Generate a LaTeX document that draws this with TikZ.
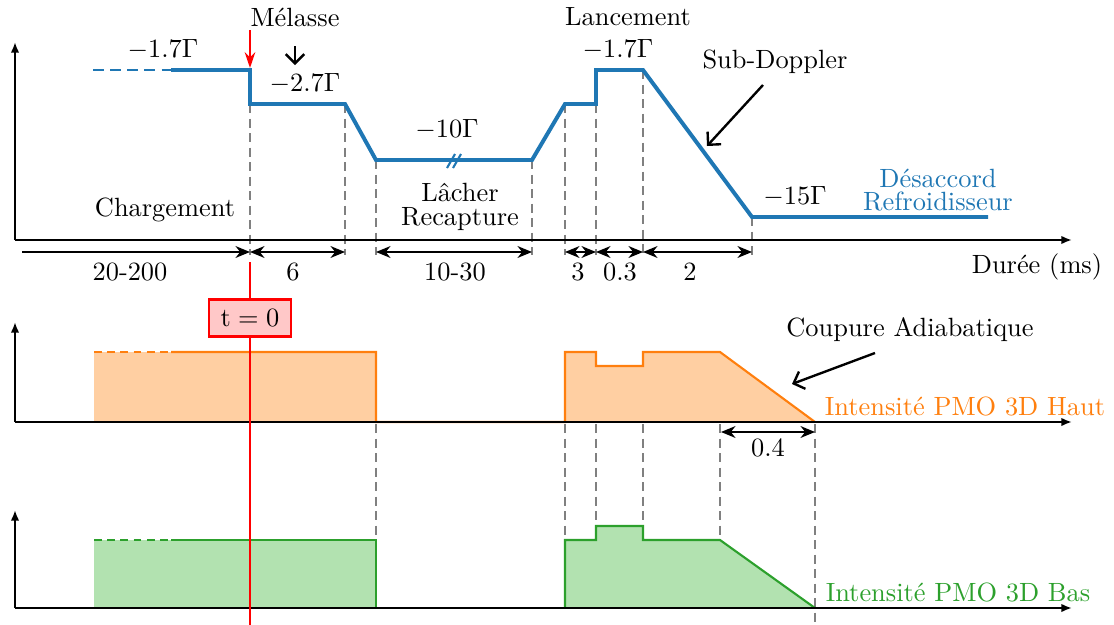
\documentclass[tikz,border=0pt]{standalone}
\usetikzlibrary{arrows.meta}
\definecolor{tblue}{HTML}{1F77B4}
\definecolor{torange}{HTML}{FF7F0E}
\definecolor{tgreen}{HTML}{2CA02C}
\definecolor{ofill}{HTML}{FFCFA2}
\definecolor{gfill}{HTML}{B2E2B0}
\definecolor{tfill}{HTML}{FFC8C8}
\begin{document}
\begin{tikzpicture}[x=0.379pt,y=-0.379pt,
  axis/.style={line width=0.9pt,-{Latex[length=4pt,width=3.2pt]}},
  dimarr/.style={line width=0.7pt,{Stealth[length=5.5pt,width=4.5pt]}-{Stealth[length=5.5pt,width=4.5pt]}},
  dimone/.style={line width=0.7pt,-{Stealth[length=5.5pt,width=4.5pt]}},
  gdash/.style={gray,line width=0.9pt,dash pattern=on 3.5pt off 2pt},
  bline/.style={tblue,line width=1.5pt},
  oline/.style={torange,line width=0.8pt},
  gline/.style={tgreen,line width=0.8pt},
  lbl/.style={inner sep=1pt},
  pointer/.style={line width=0.9pt,-{Straight Barb[length=3.5pt,width=7pt,line width=0.9pt]}}
]
\useasboundingbox (0,0) rectangle (1114,625);

% ---------- top panel ----------
\foreach \x/\y in {250/104,345/104,376/160,532/160,565/104,596/104,643/70,752/217}
  \draw[gdash] (\x,\y) -- (\x,255);
\draw[tblue,line width=0.9pt,dash pattern=on 4pt off 2.5pt] (93,70) -- (171,70);
\draw[bline,line join=miter] (171,70) -- (250,70) -- (250,104) -- (345,104) -- (376,160) -- (532,160) -- (565,104) -- (596,104) -- (596,70) -- (643,70) -- (752,217) -- (988,217);
\draw[tblue,line width=0.8pt] (447,168) -- (455,154) (453,168) -- (461,154);
\draw[axis] (15,240) -- (15,42);
\draw[axis] (15,240) -- (1072,240);

% dimension arrows
\coordinate (d0) at (22,252);
\coordinate (d1) at (250,252);
\coordinate (d2) at (345,252);
\coordinate (d3) at (376,252);
\coordinate (d4) at (532,252);
\coordinate (d5) at (565,252);
\coordinate (d6) at (596,252);
\coordinate (d7) at (643,252);
\coordinate (d8) at (752,252);
\draw[dimone] (d0) -- (d1);
\draw[dimarr] (d1) -- (d2);
\draw[dimarr] (d3) -- (d4);
\draw[dimarr] (d5) -- (d6);
\draw[dimarr] (d6) -- (d7);
\draw[dimarr] (d7) -- (d8);
\node[lbl] (l1) at (130,272) {20-200};
\node[lbl] (l2) at (293,272) {6};
\node[lbl] (l3) at (455,272) {10-30};
\node[lbl] (l4) at (578,272) {3};
\node[lbl] (l5) at (620,272) {0.3};
\node[lbl] (l6) at (690,272) {2};
\node[lbl] (dur) at (1037,267) {Durée (ms)};

% labels top
\node[lbl] (g1) at (163,50) {$-1.7\Gamma$};
\node[lbl] (mel) at (295,17) {Mélasse};
\node[lbl] (g2) at (305,84) {$-2.7\Gamma$};
\node[lbl] (g3) at (447,130) {$-10\Gamma$};
\node[lbl] (charg) at (165,210) {Chargement};
\node[lbl,align=center] (lach) at (460,207) {Lâcher\\[-3pt]Recapture};
\node[lbl] (lanc) at (628,17) {Lancement};
\node[lbl] (g4) at (618,50) {$-1.7\Gamma$};
\node[lbl] (subd) at (775,62) {Sub-Doppler};
\node[lbl] (g5) at (795,197) {$-15\Gamma$};
\node[lbl,align=center,text=tblue] (desa) at (938,190) {Désaccord\\[-3pt]Refroidisseur};

\coordinate (ra0) at (250,30);
\coordinate (ra1) at (250,68);
\draw[red,line width=0.8pt,-{Stealth[length=6pt,width=4pt]}] (ra0) -- (ra1);
\coordinate (ma0) at (295,46);
\coordinate (ma1) at (295,65);
\draw[pointer] (ma0) -- (ma1);
\coordinate (sd0) at (763,85);
\coordinate (sd1) at (707,146);
\draw[pointer] (sd0) -- (sd1);

% ---------- middle panel ----------
\fill[ofill] (94,422) -- (94,352) -- (376,352) -- (376,422) -- cycle;
\fill[ofill] (565,422) -- (565,352) -- (596,352) -- (596,366) -- (643,366) -- (643,352) -- (720,352) -- (815,422) -- cycle;
\draw[oline,dash pattern=on 3pt off 2pt] (94,352) -- (171,352);
\draw[oline] (171,352) -- (376,352) -- (376,422) -- (565,422) -- (565,352) -- (596,352) -- (596,366) -- (643,366) -- (643,352) -- (720,352) -- (815,422);
\draw[axis] (15,422) -- (15,322);
\draw[axis] (15,422) -- (1072,422);
\node[lbl,text=torange] (haut) at (965,406) {Intensité PMO 3D Haut};
\node[lbl] (coup) at (910,330) {Coupure Adiabatique};
\coordinate (ca0) at (875,353);
\coordinate (ca1) at (792,384);
\draw[pointer] (ca0) -- (ca1);

% dashed verticals lower
\draw[gdash] (376,424) -- (376,540);
\draw[gdash] (565,424) -- (565,540);
\draw[gdash] (596,424) -- (596,526);
\draw[gdash] (643,424) -- (643,526);
\draw[gdash] (720,424) -- (720,540);
\draw[gdash] (815,424) -- (815,625);
\coordinate (q0) at (721,432);
\coordinate (q1) at (815,432);
\draw[dimarr] (q0) -- (q1);
\node[lbl] (l7) at (768,448) {0.4};

% ---------- bottom panel ----------
\fill[gfill] (94,608) -- (94,540) -- (376,540) -- (376,608) -- cycle;
\fill[gfill] (565,608) -- (565,540) -- (596,540) -- (596,526) -- (643,526) -- (643,540) -- (720,540) -- (815,608) -- cycle;
\draw[gline,dash pattern=on 3pt off 2pt] (94,540) -- (171,540);
\draw[gline] (171,540) -- (376,540) -- (376,608);
\draw[gline] (565,608) -- (565,540) -- (596,540) -- (596,526) -- (643,526) -- (643,540) -- (720,540) -- (815,608);
\draw[axis] (15,608) -- (15,510);
\draw[axis] (15,608) -- (1072,608);
\node[lbl,text=tgreen] (bas) at (958,592) {Intensité PMO 3D Bas};

% ---------- t = 0 ----------
\coordinate (rl0) at (250,262);
\coordinate (rl1) at (250,625);
\draw[red,line width=0.8pt] (rl0) -- (rl1);
\node[draw=red,fill=tfill,line width=0.8pt,minimum width=31pt,minimum height=14pt,inner sep=1pt] (t0) at (250,318) {$\mathrm{t}=0$};
\end{tikzpicture}
\end{document}
